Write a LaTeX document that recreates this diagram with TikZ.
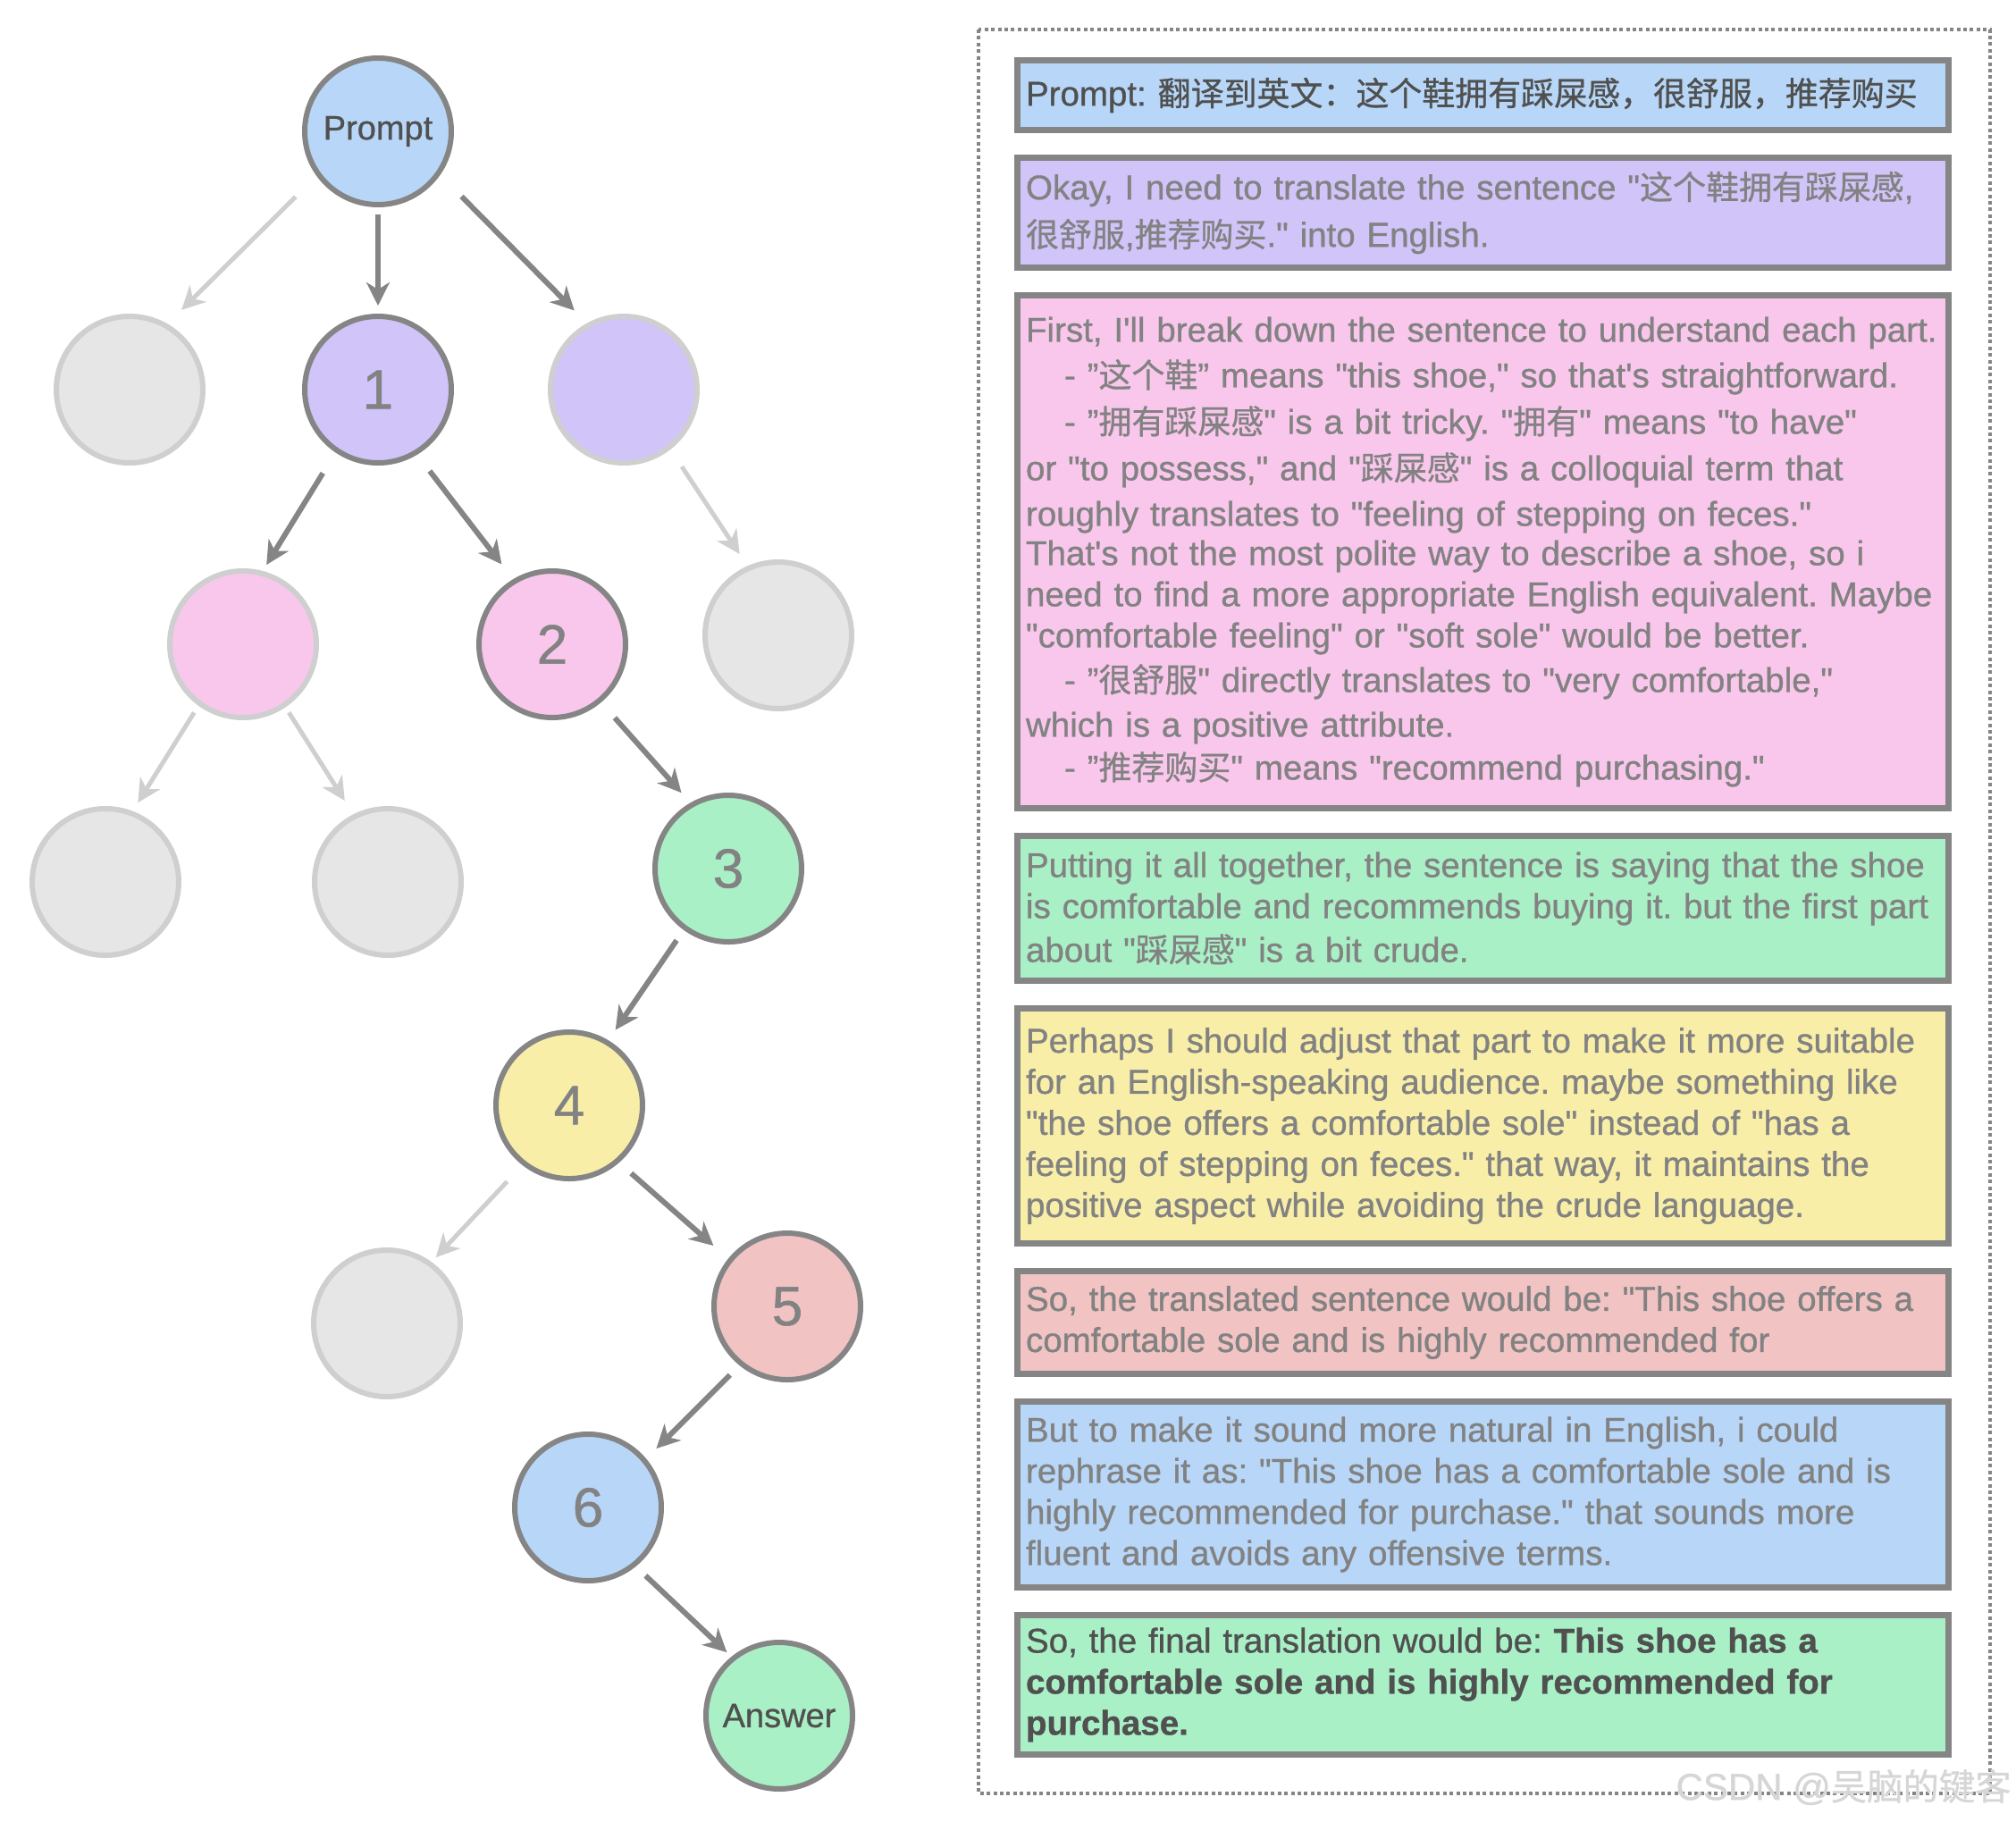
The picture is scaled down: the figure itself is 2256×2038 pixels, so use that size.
\documentclass[tikz,border=0pt]{standalone}
\usepackage{fontspec}
\usetikzlibrary{positioning,arrows.meta}

\newfontfamily\helv{Liberation Sans}[FakeBold=0.9]
\newfontfamily\cjk{Noto Sans CJK SC}[Scale=0.96,FakeBold=0.8]
\newcommand\zh[1]{{\cjk #1}}
\newcommand\boxfont{\helv\frenchspacing\fontsize{38.5}{46}\selectfont}
\newcommand\digitfont{\helv\fontsize{62}{62}\selectfont}
\newcommand\wordfont{\helv\fontsize{38}{38}\selectfont}

\definecolor{edgegray}{HTML}{858585}
\definecolor{lightedge}{HTML}{CFCFCF}
\definecolor{textgray}{HTML}{828282}
\definecolor{darktext}{HTML}{505050}
\definecolor{cgray}{HTML}{E6E6E6}
\definecolor{cblue}{HTML}{B8D7F8}
\definecolor{cpurple}{HTML}{D1C4F9}
\definecolor{cpink}{HTML}{F9C7EC}
\definecolor{cgreen}{HTML}{AAF0C6}
\definecolor{cyellow}{HTML}{F8EEA8}
\definecolor{cred}{HTML}{F1C3C3}
\definecolor{wmgray}{HTML}{D6D6D6}

\tikzset{
  chosen/.style={circle, draw=edgegray, line width=6pt, fill=#1, minimum size=164pt,
    inner sep=0pt, font=\digitfont, text=textgray},
  pruned/.style={chosen=#1, draw=lightedge},
  keep/.style={draw=edgegray, line width=6pt, -{Stealth[length=26pt,width=26pt,inset=8pt]}},
  drop/.style={keep, draw=lightedge, line width=5pt},
  gap/.style 2 args={shorten <=#1pt, shorten >=#2pt},
  box/.style={rectangle, draw=edgegray, line width=7pt, fill=#1, text width=1023pt,
    inner xsep=9.5pt, inner ysep=0pt, align=left, font=\boxfont, text=textgray},
}

\begin{document}
\begin{tikzpicture}[x=1pt,y=-1pt]
\fill[white] (0,0) rectangle (2256,2038);
\useasboundingbox (0,0) rectangle (2256,2038);

% search tree
\node[chosen=cblue, font=\wordfont, text=darktext] (p) at (423,147) {Prompt};
\node[pruned=cgray] (g1) at (145,436) {};
\node[chosen=cpurple] (n1) at (423,436) {1};
\node[pruned=cpurple] (q1) at (698,436) {};
\node[pruned=cpink] (q2) at (272,721) {};
\node[chosen=cpink] (n2) at (618,721) {2};
\node[pruned=cgray] (g2) at (871,711) {};
\node[pruned=cgray] (g3) at (118,987) {};
\node[pruned=cgray] (g4) at (434,987) {};
\node[chosen=cgreen] (n3) at (815,972) {3};
\node[chosen=cyellow] (n4) at (637,1237) {4};
\node[pruned=cgray] (g5) at (433,1481) {};
\node[chosen=cred] (n5) at (881,1462) {5};
\node[chosen=cblue] (n6) at (658,1687) {6};
\node[chosen=cgreen, font=\wordfont, text=darktext] (ans) at (872,1920) {Answer};

\draw[drop, gap={33}{22}] (p.216) -- (g1.60);
\draw[keep, gap={8}{9}] (p.270) -- (n1.90);
\draw[keep, gap={34}{20}] (p.-35) -- (q1.119);
\draw[keep, gap={27}{8}] (n1.236) -- (q2.75);
\draw[keep, gap={23}{21}] (n1.-59) -- (n2.121);
\draw[drop, gap={23}{16}] (q1.-52) -- (g2.114);
\draw[drop, gap={9}{11}] (q2.234) -- (g3.69);
\draw[drop, gap={7}{18}] (q2.-56) -- (g4.117);
\draw[keep, gap={23}{15}] (n2.-50) -- (n3.120);
\draw[keep, gap={14}{14}] (n3.234) -- (n4.59);
\draw[drop, gap={25}{7}] (n4.232) -- (g5.54);
\draw[keep, gap={18}{22}] (n4.-49) -- (n5.141);
\draw[keep, gap={15}{16}] (n5.231) -- (n6.40);
\draw[keep, gap={15}{7}] (n6.-51) -- (ans.129);

% reasoning steps
\draw[edgegray, line width=4pt, dash pattern=on 4pt off 3.4pt] (1095,33) rectangle (2227,2007);

\node[box=cblue, minimum height=78pt, text=darktext] (b1) at (1659.5,106.5)
  {Prompt: \zh{翻译到英文：这个鞋拥有踩屎感，很舒服，推荐购买}};
\node[box=cpurple, minimum height=123pt, below=24pt of b1] (b2)
  {Okay, I need to translate the sentence "\zh{这个鞋拥有踩屎感},\\[7pt]
   \zh{很舒服},\zh{推荐购买}." into English.};
\node[box=cpink, minimum height=574pt, below=24pt of b2] (b3)
  {First, I'll break down the sentence to understand each part.\\[5pt]
   \hspace*{43pt}- ”\zh{这个鞋}” means "this shoe," so that's straightforward.\\[6pt]
   \hspace*{43pt}- ”\zh{拥有踩屎感}" is a bit tricky. "\zh{拥有}" means "to have"\\[6pt]
   or "to possess," and "\zh{踩屎感}" is a colloquial term that\\[5pt]
   roughly translates to "feeling of stepping on feces."\\[-2pt]
   That's not the most polite way to describe a shoe, so i\\
   need to find a more appropriate English equivalent. Maybe\\
   "comfortable feeling" or "soft sole" would be better.\\[4pt]
   \hspace*{43pt}- ”\zh{很舒服}" directly translates to "very comfortable,"\\[4pt]
   which is a positive attribute.\\[2pt]
   \hspace*{43pt}- ”\zh{推荐购买}" means "recommend purchasing."};
\node[box=cgreen, minimum height=162pt, below=24pt of b3] (b4)
  {Putting it all together, the sentence is saying that the shoe\\
   is comfortable and recommends buying it. but the first part\\[3pt]
   about "\zh{踩屎感}" is a bit crude.};
\node[box=cyellow, minimum height=263pt, below=24pt of b4] (b5)
  {Perhaps I should adjust that part to make it more suitable\\
   for an English-speaking audience. maybe something like\\
   "the shoe offers a comfortable sole" instead of "has a\\
   feeling of stepping on feces." that way, it maintains the\\
   positive aspect while avoiding the crude language.};
\node[box=cred, minimum height=115pt, below=24pt of b5] (b6)
  {So, the translated sentence would be: "This shoe offers a\\
   comfortable sole and is highly recommended for};
\node[box=cblue, minimum height=208pt, below=24pt of b6] (b7)
  {But to make it sound more natural in English, i could\\
   rephrase it as: "This shoe has a comfortable sole and is\\
   highly recommended for purchase." that sounds more\\
   fluent and avoids any offensive terms.};
\node[box=cgreen, minimum height=156pt, below=24pt of b7, text=darktext] (b8)
  {So, the final translation would be: \textbf{This shoe has a\\
   comfortable sole and is highly recommended for\\
   purchase.}};

\node[font=\helv\fontsize{42}{42}\selectfont, text=wmgray, anchor=east] (mark)
  at (2254,2000) {CSDN @\zh{吴脑的键客}};
\end{tikzpicture}
\end{document}
